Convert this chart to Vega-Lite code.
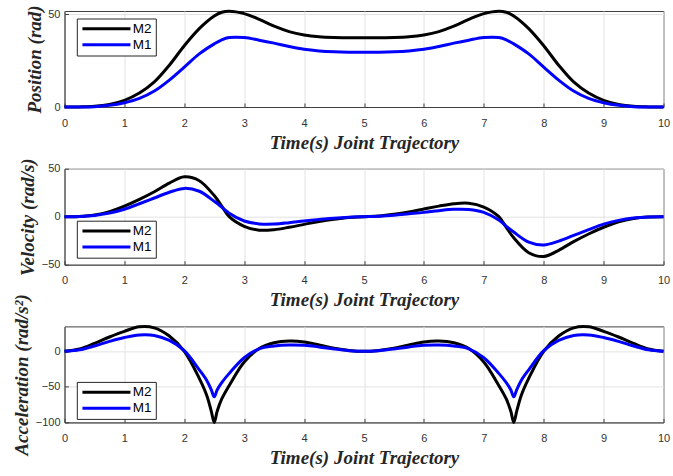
{
  "$schema": "https://vega.github.io/schema/vega-lite/v6.json",
  "background": "white",
  "padding": {"left": 11.5, "top": 4, "right": 0, "bottom": 0},
  "bounds": "flush",
  "spacing": 61.7,
  "resolve": {"legend": {"color": "independent"}},
  "datasets": {
    "pv": [
      {"t": 0, "m": "M2", "pos": 0, "vel": 0},
      {"t": 0.25, "m": "M2", "pos": 0.05, "vel": 0.3},
      {"t": 0.5, "m": "M2", "pos": 0.35, "vel": 1.8},
      {"t": 0.75, "m": "M2", "pos": 1.4, "vel": 5.3},
      {"t": 1, "m": "M2", "pos": 3.6, "vel": 11},
      {"t": 1.25, "m": "M2", "pos": 7.5, "vel": 18},
      {"t": 1.5, "m": "M2", "pos": 13.5, "vel": 26},
      {"t": 1.75, "m": "M2", "pos": 22.5, "vel": 35},
      {"t": 2, "m": "M2", "pos": 33, "vel": 41.5},
      {"t": 2.25, "m": "M2", "pos": 42.2, "vel": 37.5},
      {"t": 2.5, "m": "M2", "pos": 49, "vel": 22},
      {"t": 2.625, "m": "M2", "pos": 51, "vel": 11},
      {"t": 2.75, "m": "M2", "pos": 51.6, "vel": 0},
      {"t": 3, "m": "M2", "pos": 50.3, "vel": -10},
      {"t": 3.25, "m": "M2", "pos": 47.2, "vel": -14},
      {"t": 3.5, "m": "M2", "pos": 43.5, "vel": -13.5},
      {"t": 3.75, "m": "M2", "pos": 40.6, "vel": -11},
      {"t": 4, "m": "M2", "pos": 38.8, "vel": -8},
      {"t": 4.25, "m": "M2", "pos": 37.8, "vel": -5},
      {"t": 4.5, "m": "M2", "pos": 37.4, "vel": -2.6},
      {"t": 4.75, "m": "M2", "pos": 37.3, "vel": -0.8},
      {"t": 5, "m": "M2", "pos": 37.3, "vel": 0},
      {"t": 5.25, "m": "M2", "pos": 37.3, "vel": 0.8},
      {"t": 5.5, "m": "M2", "pos": 37.4, "vel": 2.6},
      {"t": 5.75, "m": "M2", "pos": 37.8, "vel": 5},
      {"t": 6, "m": "M2", "pos": 38.8, "vel": 8},
      {"t": 6.25, "m": "M2", "pos": 40.6, "vel": 11},
      {"t": 6.5, "m": "M2", "pos": 43.5, "vel": 13.5},
      {"t": 6.75, "m": "M2", "pos": 47.2, "vel": 14},
      {"t": 7, "m": "M2", "pos": 50.3, "vel": 10},
      {"t": 7.25, "m": "M2", "pos": 51.6, "vel": 0},
      {"t": 7.375, "m": "M2", "pos": 51, "vel": -11},
      {"t": 7.5, "m": "M2", "pos": 49, "vel": -22},
      {"t": 7.75, "m": "M2", "pos": 42.2, "vel": -37.5},
      {"t": 8, "m": "M2", "pos": 33, "vel": -41.5},
      {"t": 8.25, "m": "M2", "pos": 22.5, "vel": -35},
      {"t": 8.5, "m": "M2", "pos": 13.5, "vel": -26},
      {"t": 8.75, "m": "M2", "pos": 7.5, "vel": -18},
      {"t": 9, "m": "M2", "pos": 3.6, "vel": -11},
      {"t": 9.25, "m": "M2", "pos": 1.4, "vel": -5.3},
      {"t": 9.5, "m": "M2", "pos": 0.35, "vel": -1.8},
      {"t": 9.75, "m": "M2", "pos": 0.05, "vel": -0.3},
      {"t": 10, "m": "M2", "pos": 0, "vel": 0},
      {"t": 0, "m": "M1", "pos": 0, "vel": 0},
      {"t": 0.25, "m": "M1", "pos": 0.03, "vel": 0.2},
      {"t": 0.5, "m": "M1", "pos": 0.2, "vel": 1.3},
      {"t": 0.75, "m": "M1", "pos": 0.9, "vel": 3.8},
      {"t": 1, "m": "M1", "pos": 2.3, "vel": 7.8},
      {"t": 1.25, "m": "M1", "pos": 4.6, "vel": 13.5},
      {"t": 1.5, "m": "M1", "pos": 8.6, "vel": 19.5},
      {"t": 1.75, "m": "M1", "pos": 14.5, "vel": 25.5},
      {"t": 2, "m": "M1", "pos": 21.5, "vel": 29.5},
      {"t": 2.25, "m": "M1", "pos": 28.6, "vel": 26.5},
      {"t": 2.5, "m": "M1", "pos": 34, "vel": 16},
      {"t": 2.625, "m": "M1", "pos": 36.2, "vel": 10},
      {"t": 2.75, "m": "M1", "pos": 37.4, "vel": 3.5},
      {"t": 3, "m": "M1", "pos": 37.4, "vel": -4.5},
      {"t": 3.25, "m": "M1", "pos": 36, "vel": -7.5},
      {"t": 3.5, "m": "M1", "pos": 34.4, "vel": -7.7},
      {"t": 3.75, "m": "M1", "pos": 32.6, "vel": -6.3},
      {"t": 4, "m": "M1", "pos": 31.1, "vel": -4.5},
      {"t": 4.25, "m": "M1", "pos": 30.2, "vel": -3},
      {"t": 4.5, "m": "M1", "pos": 29.7, "vel": -1.5},
      {"t": 4.75, "m": "M1", "pos": 29.5, "vel": -0.5},
      {"t": 5, "m": "M1", "pos": 29.5, "vel": 0},
      {"t": 5.25, "m": "M1", "pos": 29.5, "vel": 0.5},
      {"t": 5.5, "m": "M1", "pos": 29.7, "vel": 1.5},
      {"t": 5.75, "m": "M1", "pos": 30.2, "vel": 3},
      {"t": 6, "m": "M1", "pos": 31.1, "vel": 4.5},
      {"t": 6.25, "m": "M1", "pos": 32.6, "vel": 6.3},
      {"t": 6.5, "m": "M1", "pos": 34.4, "vel": 7.7},
      {"t": 6.75, "m": "M1", "pos": 36, "vel": 7.5},
      {"t": 7, "m": "M1", "pos": 37.4, "vel": 4.5},
      {"t": 7.25, "m": "M1", "pos": 37.4, "vel": -3.5},
      {"t": 7.375, "m": "M1", "pos": 36.2, "vel": -10},
      {"t": 7.5, "m": "M1", "pos": 34, "vel": -16},
      {"t": 7.75, "m": "M1", "pos": 28.6, "vel": -26.5},
      {"t": 8, "m": "M1", "pos": 21.5, "vel": -29.5},
      {"t": 8.25, "m": "M1", "pos": 14.5, "vel": -25.5},
      {"t": 8.5, "m": "M1", "pos": 8.6, "vel": -19.5},
      {"t": 8.75, "m": "M1", "pos": 4.6, "vel": -13.5},
      {"t": 9, "m": "M1", "pos": 2.3, "vel": -7.8},
      {"t": 9.25, "m": "M1", "pos": 0.9, "vel": -3.8},
      {"t": 9.5, "m": "M1", "pos": 0.2, "vel": -1.3},
      {"t": 9.75, "m": "M1", "pos": 0.03, "vel": -0.2},
      {"t": 10, "m": "M1", "pos": 0, "vel": 0}
    ],
    "acc": [
      {"t": 0, "m": "M2", "acc": 0},
      {"t": 0.25, "m": "M2", "acc": 3.3},
      {"t": 0.5, "m": "M2", "acc": 11.2},
      {"t": 0.75, "m": "M2", "acc": 20.2},
      {"t": 1, "m": "M2", "acc": 28.2},
      {"t": 1.25, "m": "M2", "acc": 34.5},
      {"t": 1.5, "m": "M2", "acc": 33},
      {"t": 1.75, "m": "M2", "acc": 21.5},
      {"t": 2, "m": "M2", "acc": 0},
      {"t": 2.25, "m": "M2", "acc": -38},
      {"t": 2.375, "m": "M2", "acc": -62},
      {"t": 2.45, "m": "M2", "acc": -84},
      {"t": 2.5, "m": "M2", "acc": -100},
      {"t": 2.55, "m": "M2", "acc": -84},
      {"t": 2.625, "m": "M2", "acc": -67},
      {"t": 2.75, "m": "M2", "acc": -48},
      {"t": 3, "m": "M2", "acc": -15},
      {"t": 3.25, "m": "M2", "acc": 4},
      {"t": 3.5, "m": "M2", "acc": 12},
      {"t": 3.75, "m": "M2", "acc": 14.5},
      {"t": 4, "m": "M2", "acc": 13.3},
      {"t": 4.25, "m": "M2", "acc": 9},
      {"t": 4.5, "m": "M2", "acc": 4.5},
      {"t": 4.75, "m": "M2", "acc": 1.3},
      {"t": 5, "m": "M2", "acc": 0},
      {"t": 5.25, "m": "M2", "acc": 1.3},
      {"t": 5.5, "m": "M2", "acc": 4.5},
      {"t": 5.75, "m": "M2", "acc": 9},
      {"t": 6, "m": "M2", "acc": 13.3},
      {"t": 6.25, "m": "M2", "acc": 14.5},
      {"t": 6.5, "m": "M2", "acc": 12},
      {"t": 6.75, "m": "M2", "acc": 4},
      {"t": 7, "m": "M2", "acc": -15},
      {"t": 7.25, "m": "M2", "acc": -48},
      {"t": 7.375, "m": "M2", "acc": -67},
      {"t": 7.45, "m": "M2", "acc": -84},
      {"t": 7.5, "m": "M2", "acc": -100},
      {"t": 7.55, "m": "M2", "acc": -84},
      {"t": 7.625, "m": "M2", "acc": -62},
      {"t": 7.75, "m": "M2", "acc": -38},
      {"t": 8, "m": "M2", "acc": 0},
      {"t": 8.25, "m": "M2", "acc": 21.5},
      {"t": 8.5, "m": "M2", "acc": 33},
      {"t": 8.75, "m": "M2", "acc": 34.5},
      {"t": 9, "m": "M2", "acc": 28.2},
      {"t": 9.25, "m": "M2", "acc": 20.2},
      {"t": 9.5, "m": "M2", "acc": 11.2},
      {"t": 9.75, "m": "M2", "acc": 3.3},
      {"t": 10, "m": "M2", "acc": 0},
      {"t": 0, "m": "M1", "acc": 0},
      {"t": 0.25, "m": "M1", "acc": 2.1},
      {"t": 0.5, "m": "M1", "acc": 7.5},
      {"t": 0.75, "m": "M1", "acc": 14},
      {"t": 1, "m": "M1", "acc": 19.5},
      {"t": 1.25, "m": "M1", "acc": 23},
      {"t": 1.5, "m": "M1", "acc": 22.3},
      {"t": 1.75, "m": "M1", "acc": 15.3},
      {"t": 2, "m": "M1", "acc": 1},
      {"t": 2.25, "m": "M1", "acc": -26},
      {"t": 2.375, "m": "M1", "acc": -41},
      {"t": 2.45, "m": "M1", "acc": -54},
      {"t": 2.5, "m": "M1", "acc": -64},
      {"t": 2.55, "m": "M1", "acc": -54},
      {"t": 2.625, "m": "M1", "acc": -44},
      {"t": 2.75, "m": "M1", "acc": -31},
      {"t": 3, "m": "M1", "acc": -9},
      {"t": 3.25, "m": "M1", "acc": 3.5},
      {"t": 3.5, "m": "M1", "acc": 7.5},
      {"t": 3.75, "m": "M1", "acc": 9},
      {"t": 4, "m": "M1", "acc": 8.5},
      {"t": 4.25, "m": "M1", "acc": 6.2},
      {"t": 4.5, "m": "M1", "acc": 3.3},
      {"t": 4.75, "m": "M1", "acc": 1},
      {"t": 5, "m": "M1", "acc": 0},
      {"t": 5.25, "m": "M1", "acc": 1},
      {"t": 5.5, "m": "M1", "acc": 3.3},
      {"t": 5.75, "m": "M1", "acc": 6.2},
      {"t": 6, "m": "M1", "acc": 8.5},
      {"t": 6.25, "m": "M1", "acc": 9},
      {"t": 6.5, "m": "M1", "acc": 7.5},
      {"t": 6.75, "m": "M1", "acc": 3.5},
      {"t": 7, "m": "M1", "acc": -9},
      {"t": 7.25, "m": "M1", "acc": -31},
      {"t": 7.375, "m": "M1", "acc": -44},
      {"t": 7.45, "m": "M1", "acc": -54},
      {"t": 7.5, "m": "M1", "acc": -64},
      {"t": 7.55, "m": "M1", "acc": -54},
      {"t": 7.625, "m": "M1", "acc": -41},
      {"t": 7.75, "m": "M1", "acc": -26},
      {"t": 8, "m": "M1", "acc": 1},
      {"t": 8.25, "m": "M1", "acc": 15.3},
      {"t": 8.5, "m": "M1", "acc": 22.3},
      {"t": 8.75, "m": "M1", "acc": 23},
      {"t": 9, "m": "M1", "acc": 19.5},
      {"t": 9.25, "m": "M1", "acc": 14},
      {"t": 9.5, "m": "M1", "acc": 7.5},
      {"t": 9.75, "m": "M1", "acc": 2.1},
      {"t": 10, "m": "M1", "acc": 0}
    ]
  },
  "vconcat": [
    {
      "width": 599,
      "height": 96,
      "data": {"name": "pv"},
      "mark": {"type": "line", "strokeWidth": 3, "interpolate": "catmull-rom"},
      "encoding": {
        "x": {"field": "t", "type": "quantitative", "scale": {"domain": [0, 10], "nice": false},
              "axis": {"values": [0, 1, 2, 3, 4, 5, 6, 7, 8, 9, 10], "title": "Time(s) Joint Trajectory"}},
        "y": {"field": "pos", "type": "quantitative", "scale": {"domain": [0, 51.7], "nice": false, "zero": false},
              "axis": {"values": [0, 50], "title": "Position (rad)"}},
        "color": {"field": "m", "type": "nominal", "scale": {"domain": ["M2", "M1"], "range": ["#000000", "#0000ff"]},
                  "legend": {"orient": "none", "legendX": 12.3, "legendY": 7.5}}
      }
    },
    {
      "width": 599,
      "height": 96,
      "data": {"name": "pv"},
      "mark": {"type": "line", "strokeWidth": 3, "interpolate": "catmull-rom"},
      "encoding": {
        "x": {"field": "t", "type": "quantitative", "scale": {"domain": [0, 10], "nice": false},
              "axis": {"values": [0, 1, 2, 3, 4, 5, 6, 7, 8, 9, 10], "title": "Time(s) Joint Trajectory"}},
        "y": {"field": "vel", "type": "quantitative", "scale": {"domain": [-50, 50], "nice": false, "zero": false},
              "axis": {"values": [-50, 0, 50], "title": "Velocity (rad/s)"}},
        "color": {"field": "m", "type": "nominal", "scale": {"domain": ["M2", "M1"], "range": ["#000000", "#0000ff"]},
                  "legend": {"orient": "none", "legendX": 12.3, "legendY": 52}}
      }
    },
    {
      "width": 599,
      "height": 96,
      "data": {"name": "acc"},
      "mark": {"type": "line", "strokeWidth": 3, "interpolate": "catmull-rom"},
      "encoding": {
        "x": {"field": "t", "type": "quantitative", "scale": {"domain": [0, 10], "nice": false},
              "axis": {"values": [0, 1, 2, 3, 4, 5, 6, 7, 8, 9, 10], "title": "Time(s) Joint Trajectory"}},
        "y": {"field": "acc", "type": "quantitative", "scale": {"domain": [-100, 35.1], "nice": false, "zero": false},
              "axis": {"values": [-100, -50, 0], "title": "Acceleration (rad/s²)"}},
        "color": {"field": "m", "type": "nominal", "scale": {"domain": ["M2", "M1"], "range": ["#000000", "#0000ff"]},
                  "legend": {"orient": "none", "legendX": 12.3, "legendY": 55.5}}
      }
    }
  ],
  "config": {
    "view": {"stroke": "#404040", "strokeWidth": 1},
    "axis": {
      "ticks": true,
      "tickSize": -4,
      "tickColor": "#404040",
      "labelFlush": false,
      "grid": true,
      "gridColor": "#e2e2e2",
      "gridWidth": 1,
      "domainColor": "#404040",
      "domainWidth": 1,
      "labelFont": "Liberation Sans",
      "labelFontSize": 11,
      "labelColor": "#333333",
      "titleFont": "Liberation Serif",
      "titleFontSize": 19,
      "titleFontStyle": "italic",
      "titleFontWeight": "bold",
      "titleColor": "#262626"
    },
    "axisX": {"labelPadding": 14, "titlePadding": 5},
    "axisY": {"labelPadding": 8.5, "titlePadding": 3.5},
    "legend": {
      "title": null,
      "symbolType": "M-6,0H6",
      "symbolSize": 64,
      "symbolStrokeWidth": 3,
      "symbolFillColor": "transparent",
      "symbolOffset": 19.4,
      "labelOffset": 19.5,
      "labelFont": "Liberation Sans",
      "labelFontSize": 13.5,
      "labelColor": "#000000",
      "strokeColor": "#262626",
      "fillColor": "#ffffff",
      "padding": 3.5,
      "rowPadding": 1,
      "cornerRadius": 0
    }
  }
}
